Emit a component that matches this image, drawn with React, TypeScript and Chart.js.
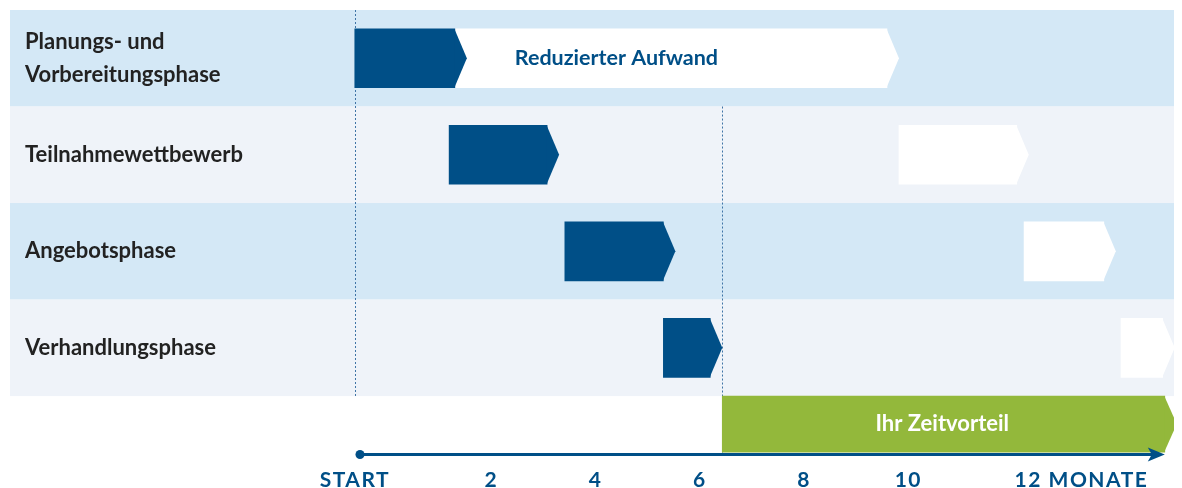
import React, { useEffect, useRef } from 'react';
import { Chart, registerables } from 'chart.js';

Chart.register(...registerables);

// ---- data ----
const rowLabels: (string | string[])[] = [
  ['Planungs- und', 'Vorbereitungsphase'],
  'Teilnahmewettbewerb',
  'Angebotsphase',
  'Verhandlungsphase',
];
const rowPositions = [0, 1, 2, 3];
const timelineRow = 3.79;

const tickValues = [0, 2, 4, 6, 8, 10, 12];
const tickLabels = ['START', '2', '4', '6', '8', '10', '12 MONATE'];

// classic procedure (dark blue), months
const classicStarts = [-0.62, 1.19, 3.41, 5.3];
const classicEnds = [1.3, 3.07, 5.3, 6.2];
// reduced effort (white), months
const reducedStarts = [1.3, 9.82, 12.22, 14.08];
const reducedEnds = [9.59, 12.08, 13.75, 14.88];
// time advantage (green)
const advantageStart = 6.43;
const advantageEnd = 14.92;

const startLineValue = -0.62;
const cutLineValue = 6.43;
const axisFrom = -0.52;
const axisTo = 14.92;

const reducedText = 'Reduzierter Aufwand';
const reducedTextValue = 2.45;
const advantageText = 'Ihr Zeitvorteil';
const advantageTextValue = 10.65;

// ---- styles ----
const DARK = '#004f87';
const GREEN = '#93b83b';
const BAND_A = '#d4e8f6';
const BAND_B = '#eff3f9';
const TIP = 12;

const timelinePlugin = {
  id: 'timeline',
  beforeDraw(chart: any) {
    const { ctx, scales } = chart;
    const y = scales.y;
    ctx.save();
    rowPositions.forEach((r, i) => {
      const top = y.getPixelForValue(r - 0.5);
      const bottom = y.getPixelForValue(r + 0.5);
      ctx.fillStyle = i % 2 === 0 ? BAND_A : BAND_B;
      ctx.fillRect(2, top, chart.width - 2, bottom - top);
    });
    ctx.restore();
  },
  beforeDatasetsDraw(chart: any) {
    const { ctx, scales } = chart;
    const { x, y } = scales;
    ctx.save();
    ctx.strokeStyle = '#3f74a6';
    ctx.lineWidth = 1;
    ctx.setLineDash([2, 2]);
    let px = Math.round(x.getPixelForValue(startLineValue)) + 0.5;
    ctx.beginPath();
    ctx.moveTo(px, y.getPixelForValue(-0.5));
    ctx.lineTo(px, y.getPixelForValue(3.5));
    ctx.stroke();
    px = Math.round(x.getPixelForValue(cutLineValue)) + 0.5;
    ctx.beginPath();
    ctx.moveTo(px, y.getPixelForValue(0.5));
    ctx.lineTo(px, chart.chartArea.bottom);
    ctx.stroke();
    ctx.restore();
  },
  afterDatasetDraw(chart: any, args: any) {
    const { ctx } = chart;
    const ds = chart.data.datasets[args.index];
    ctx.save();
    ctx.fillStyle = ds.backgroundColor;
    args.meta.data.forEach((el: any) => {
      const p = el.getProps(['x', 'y', 'height'], true);
      const h = p.height;
      ctx.beginPath();
      ctx.moveTo(p.x - 0.5, p.y - h / 2);
      ctx.lineTo(p.x + TIP, p.y);
      ctx.lineTo(p.x - 0.5, p.y + h / 2);
      ctx.closePath();
      ctx.fill();
    });
    ctx.restore();
  },
  afterDraw(chart: any) {
    const { ctx, scales, chartArea } = chart;
    const { x, y } = scales;
    ctx.save();
    // axis line
    const ay = chartArea.bottom + 0.5;
    const x0 = x.getPixelForValue(axisFrom);
    const x1 = x.getPixelForValue(axisTo);
    ctx.strokeStyle = DARK;
    ctx.fillStyle = DARK;
    ctx.lineWidth = 3;
    ctx.beginPath();
    ctx.moveTo(x0, ay);
    ctx.lineTo(x1 - 10, ay);
    ctx.stroke();
    ctx.beginPath();
    ctx.arc(x0, ay, 4.5, 0, Math.PI * 2);
    ctx.fill();
    ctx.beginPath();
    ctx.moveTo(x1 - 17, ay - 7);
    ctx.lineTo(x1, ay);
    ctx.lineTo(x1 - 17, ay + 7);
    ctx.lineTo(x1 - 13, ay);
    ctx.closePath();
    ctx.fill();

    // tick labels
    ctx.font = '700 21px Lato';
    (ctx as any).letterSpacing = '1.5px';
    ctx.textBaseline = 'alphabetic';
    tickValues.forEach((v, i) => {
      const last = i === tickValues.length - 1;
      ctx.textAlign = i === 0 ? 'right' : last ? 'left' : 'center';
      ctx.fillText(tickLabels[i], x.getPixelForValue(v) + (i === 0 ? 3 : last ? 2 : 0), chartArea.bottom + 32.5);
    });
    (ctx as any).letterSpacing = '0px';

    // bar annotations
    ctx.font = '700 21.5px Lato';
    ctx.textBaseline = 'middle';
    ctx.textAlign = 'left';
    ctx.fillStyle = DARK;
    ctx.fillText(reducedText, x.getPixelForValue(reducedTextValue), y.getPixelForValue(0));
    ctx.font = '700 22px Lato';
    ctx.textAlign = 'center';
    ctx.fillStyle = '#ffffff';
    ctx.fillText(advantageText, x.getPixelForValue(advantageTextValue), y.getPixelForValue(timelineRow));
    ctx.restore();
  },
};

export default function App() {
  const ref = useRef<HTMLCanvasElement>(null);
  useEffect(() => {
    if (!ref.current) return;
    const chart = new Chart(ref.current, {
      type: 'bar',
      data: {
        datasets: [
          {
            label: 'Klassisch',
            data: rowPositions.map((r, i) => ({ x: [classicStarts[i], classicEnds[i]], y: r })) as any,
            backgroundColor: DARK,
            barThickness: 59,
          },
          {
            label: 'Reduzierter Aufwand',
            data: rowPositions.map((r, i) => ({ x: [reducedStarts[i], reducedEnds[i]], y: r })) as any,
            backgroundColor: '#ffffff',
            barThickness: 59,
          },
          {
            label: 'Ihr Zeitvorteil',
            data: [{ x: [advantageStart, advantageEnd], y: timelineRow }] as any,
            backgroundColor: GREEN,
            barThickness: 56,
          },
        ],
      },
      options: {
        indexAxis: 'y',
        responsive: false,
        animation: false,
        devicePixelRatio: 1,
        events: [],
        datasets: { bar: { grouped: false, borderWidth: 0, borderSkipped: false } } as any,
        layout: { padding: { left: 17, top: 2, right: 0, bottom: 34 } },
        plugins: { legend: { display: false }, tooltip: { enabled: false } },
        scales: {
          x: {
            type: 'linear',
            min: -0.75,
            max: 15.25,
            offset: false,
            display: false,
            grid: { display: false },
          },
          y: {
            type: 'linear',
            min: -0.5,
            max: 4.1,
            offset: false,
            reverse: true,
            grid: { display: false },
            border: { display: false },
            afterBuildTicks: (s: any) => {
              s.ticks = rowPositions.map((v) => ({ value: v }));
            },
            afterFit: (s: any) => {
              s.width = 323;
              s.paddingTop = 0;
              s.paddingBottom = 0;
            },
            ticks: {
              crossAlign: 'far',
              color: '#222222',
              font: { family: 'Lato', size: 22, weight: 'bold', lineHeight: '33px' } as any,
              callback: (_v: any, i: number) => rowLabels[i],
            },
          },
        },
      },
      plugins: [timelinePlugin],
    });
    return () => chart.destroy();
  }, []);
  return (
    <div style={{ width: 1174, height: 480 }}>
      <canvas ref={ref} width={1174} height={480} style={{ display: 'block' }} />
    </div>
  );
}
